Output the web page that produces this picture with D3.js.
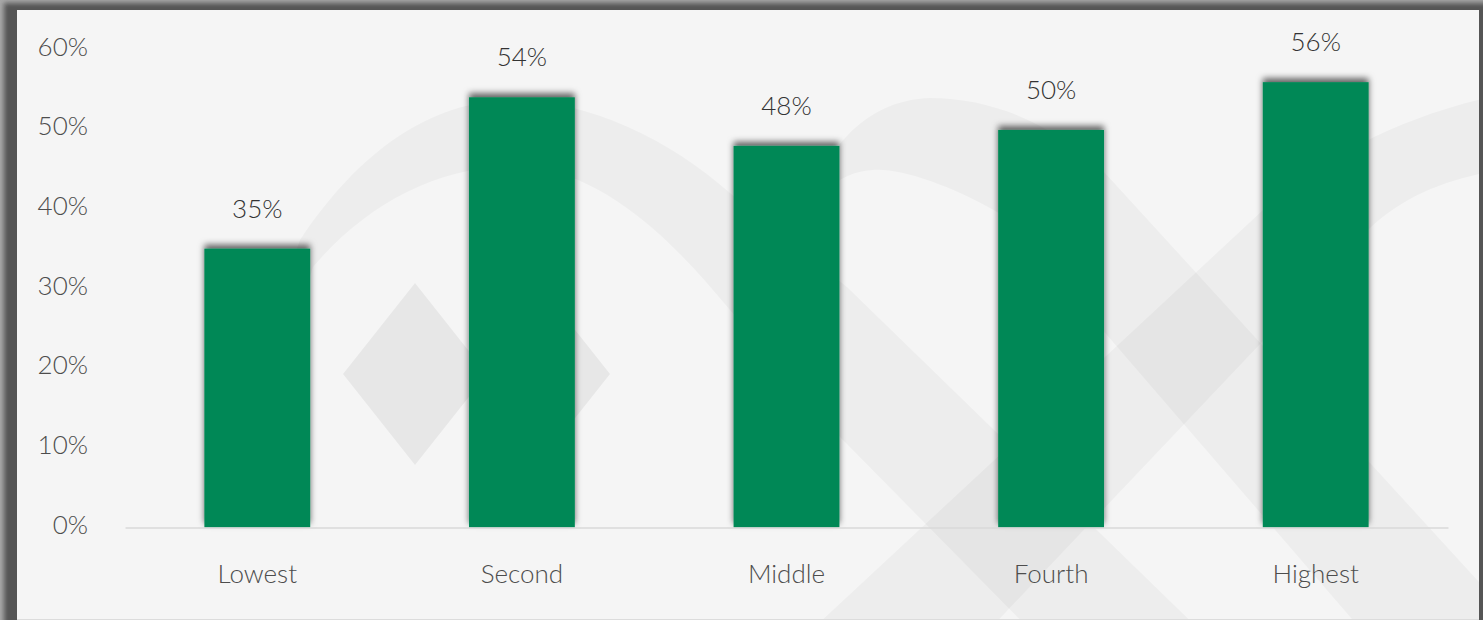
<!DOCTYPE html>
<html>
<head>
<meta charset="utf-8">
<script src="https://cdn.jsdelivr.net/npm/d3@7"></script>
<style>
  html, body { margin: 0; padding: 0; background: #a8a8a8; }
  svg { display: block; }
</style>
</head>
<body>
<script>
// données du graphique
const categories = ["Lowest", "Second", "Middle", "Fourth", "Highest"];
const shares = [0.35, 0.54, 0.479, 0.499, 0.559];
const yTicks = [0, 0.1, 0.2, 0.3, 0.4, 0.5, 0.6];

// motif du filigrane en fond (décor seulement)
const bandPaths = [
  "M230,430 L300,240 C360,150 430,102 510,100 C590,100 670,140 730,193 L847,287 L1210,640 L1040,640 L840,437 L730,310 C680,250 620,185 540,168 C450,158 370,200 313,267 L262,430 Z",
  "M795,235 C820,150 865,100 930,98 C1000,98 1060,130 1105,173 L1500,605 L1500,640 L1370,640 L1100,327 C1060,270 1030,230 997,212 C950,185 900,168 873,170 C835,172 812,200 800,240 Z",
  "M790,650 L1263,210 C1320,160 1400,115 1500,95 L1500,170 C1440,180 1400,200 1370,228 L970,650 Z"
];
const diamondPath = "M343,374 L415,283 L487,374 L415,465 Z M466,374 L538,283 L610,374 L538,465 Z";

const width = 1483;
const height = 620;
const margin = { left: 125, right: 35, top: 49.5, bottom: 92.5 };
const police = "Lato, 'Open Sans', sans-serif";

const svg = d3.select("body").append("svg")
    .attr("width", width)
    .attr("height", height);

const defs = svg.append("defs");

defs.append("filter")
    .attr("id", "flou")
    .attr("x", "-5%").attr("y", "-5%")
    .attr("width", "110%").attr("height", "110%")
  .append("feGaussianBlur")
    .attr("stdDeviation", 2.5);

defs.append("filter")
    .attr("id", "ombre")
    .attr("x", "-30%").attr("y", "-30%")
    .attr("width", "160%").attr("height", "160%")
  .append("feDropShadow")
    .attr("dx", 0)
    .attr("dy", -4)
    .attr("stdDeviation", 3)
    .attr("flood-color", "#000")
    .attr("flood-opacity", 0.6);

defs.append("clipPath")
    .attr("id", "zone")
  .append("rect")
    .attr("x", 17).attr("y", 10)
    .attr("width", 1462).attr("height", 609);

// cadre sombre autour du graphique
svg.append("rect")
    .attr("width", width)
    .attr("height", height)
    .attr("fill", "#a8a8a8");

svg.append("rect")
    .attr("x", 4).attr("y", 3)
    .attr("width", width + 10).attr("height", height + 10)
    .attr("fill", "#555")
    .attr("filter", "url(#flou)");

svg.append("rect")
    .attr("x", 17).attr("y", 10)
    .attr("width", 1462).attr("height", 609)
    .attr("fill", "#f5f5f5");

svg.append("rect")
    .attr("x", 17).attr("y", 619)
    .attr("width", 1462).attr("height", 1)
    .attr("fill", "#dcdcdc");

// filigrane
const fond = svg.append("g").attr("clip-path", "url(#zone)");

fond.selectAll("path.bande")
    .data(bandPaths)
    .enter()
    .append("path")
    .attr("class", "bande")
    .attr("d", d => d)
    .attr("fill", "#000")
    .attr("fill-opacity", 0.032);

fond.append("path")
    .attr("d", diamondPath)
    .attr("fill", "#000")
    .attr("fill-opacity", 0.055);

// échelles
const x = d3.scaleBand()
    .domain(categories)
    .range([margin.left, width - margin.right])
    .paddingInner(0.6)
    .paddingOuter(0.3);

const y = d3.scaleLinear()
    .domain([0, 0.6])
    .range([height - margin.bottom, margin.top]);

const fmt = d3.format(".0%");

// axe Y (étiquettes seulement)
const axeY = svg.append("g")
    .attr("transform", `translate(${margin.left},0)`)
    .call(d3.axisLeft(y).tickValues(yTicks).tickFormat(fmt).tickSize(0));

axeY.select(".domain").remove();
axeY.selectAll("text")
    .attr("x", -37)
    .attr("dy", 5.5)
    .attr("fill", "#4d4d4d")
    .style("font-family", police)
    .style("font-weight", 300)
    .style("font-size", "26px");

// barres
const data = categories.map((c, i) => ({ cat: c, val: shares[i] }));

svg.append("g")
    .selectAll("rect")
    .data(data)
    .enter()
    .append("rect")
    .attr("x", d => x(d.cat))
    .attr("y", d => y(d.val))
    .attr("width", x.bandwidth())
    .attr("height", d => y(0) - y(d.val))
    .attr("fill", "#038856")
    .attr("filter", "url(#ombre)");

// axe X
const axeX = svg.append("g")
    .attr("transform", `translate(0,${y(0)})`)
    .call(d3.axisBottom(x).tickSize(0).tickSizeOuter(0));

axeX.select(".domain")
    .attr("stroke", "#d9d9d9")
    .attr("stroke-width", 1.5);
axeX.selectAll("text")
    .attr("y", 55.5)
    .attr("dy", 0)
    .attr("fill", "#4d4d4d")
    .style("font-family", police)
    .style("font-weight", 300)
    .style("font-size", "26px");

// étiquettes de valeurs
svg.append("g")
    .selectAll("text")
    .data(data)
    .enter()
    .append("text")
    .attr("x", d => x(d.cat) + x.bandwidth() / 2)
    .attr("y", d => y(d.val) - 31)
    .attr("text-anchor", "middle")
    .attr("fill", "#333")
    .style("font-family", police)
    .style("font-weight", 300)
    .style("font-size", "26px")
    .text(d => fmt(d.val));
</script>
</body>
</html>
